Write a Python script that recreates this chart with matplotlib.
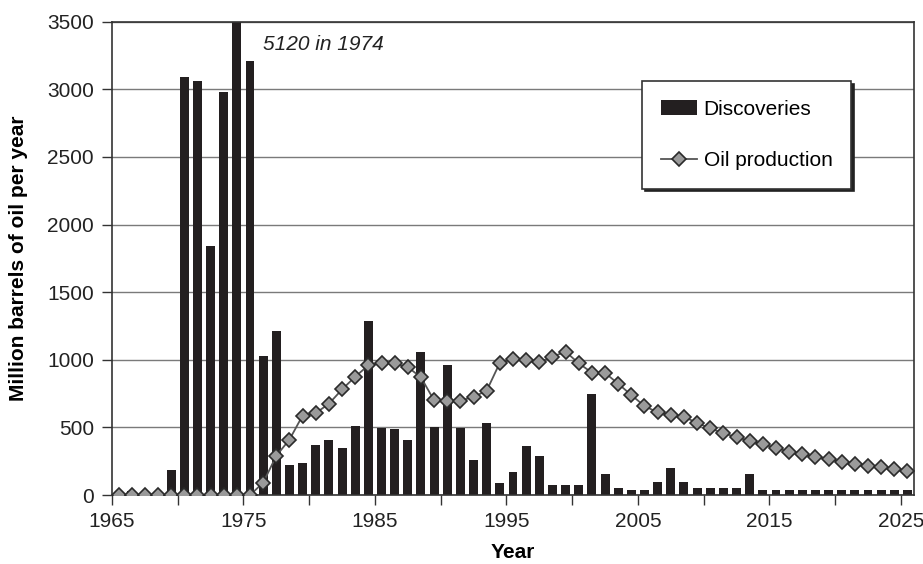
import numpy as np
import matplotlib.pyplot as plt
from matplotlib.ticker import FixedLocator, MultipleLocator

plt.rcParams['font.family'] = ['Liberation Sans', 'DejaVu Sans']

# data
years = np.arange(1965, 2026)
discoveries = [0, 30, 0, 0, 185, 3090, 3060, 1845, 2980, 5120,
               3210, 1030, 1215, 220, 234, 367, 407, 350, 510, 1287,
               498, 486, 409, 1057, 503, 959, 498, 262, 530, 88,
               173, 360, 286, 72, 74, 74, 749, 153, 49, 39,
               39, 99, 200, 99, 49, 49, 49, 49, 153, 40,
               40, 40, 40, 40, 40, 40, 40, 40, 40, 40, 40]
production = [0, 0, 0, 0, 0, 0, 0, 0, 0, 0,
              0, 91, 290, 410, 588, 606, 675, 781, 875, 959,
              976, 973, 946, 870, 700, 695, 698, 725, 772, 978,
              1003, 998, 983, 1023, 1060, 974, 905, 903, 823, 739,
              658, 611, 594, 579, 533, 493, 456, 429, 399, 374,
              350, 318, 301, 283, 266, 246, 231, 217, 205, 192, 175]
year_labels = list(range(1965, 2026, 10))

# each year sits in the middle of its slot (category axis look)
x = years + 0.5

fig = plt.figure(figsize=(9.23, 5.64), dpi=100)
ax = fig.add_axes([0.1213, 0.1223, 0.8690, 0.8392])

ax.set_axisbelow(True)
ax.yaxis.grid(True, color='#7a7a7a', linewidth=1)

bars = ax.bar(x, discoveries, width=0.68, color='#231f20', label='Discoveries', zorder=2)
line, = ax.plot(x, production, color='#555555', linewidth=1.3, marker='D', markersize=7,
                markerfacecolor='#9a9a9a', markeredgecolor='#2a2a2a', markeredgewidth=1.2,
                label='Oil production', zorder=3)

ax.set_xlim(1965, 2026)
ax.set_ylim(0, 3500)
ax.xaxis.set_major_locator(FixedLocator(year_labels))
ax.xaxis.set_minor_locator(FixedLocator(list(range(1970, 2026, 10))))
ax.yaxis.set_major_locator(MultipleLocator(500))
ax.tick_params(axis='both', which='both', direction='out', length=7, width=1,
               color='#333333', labelsize=15, labelcolor='#222222')
ax.tick_params(axis='x', which='major', pad=5)
ax.tick_params(axis='y', pad=6)

for s in ax.spines.values():
    s.set_color('#333333')
    s.set_linewidth(1.2)

ax.set_xlabel('Year', fontsize=15, fontweight='bold', labelpad=9)
ax.set_ylabel('Million barrels of oil per year', fontsize=15, fontweight='bold', labelpad=14)

ax.text(1976.5, 3335, '5120 in 1974', fontsize=15, style='italic', color='#222222',
        va='center')

leg = ax.legend([bars, line], ['Discoveries', 'Oil production'],
                loc='upper left', bbox_to_anchor=(0.661, 0.875), fontsize=15,
                fancybox=False, framealpha=1, edgecolor='#333333',
                shadow={'color': '#222222', 'alpha': 1},
                borderpad=0.9, labelspacing=1.55, handlelength=1.75,
                handletextpad=0.3, borderaxespad=0)
leg.get_frame().set_linewidth(1.2)

plt.savefig('out.png', dpi=100, facecolor='white')
